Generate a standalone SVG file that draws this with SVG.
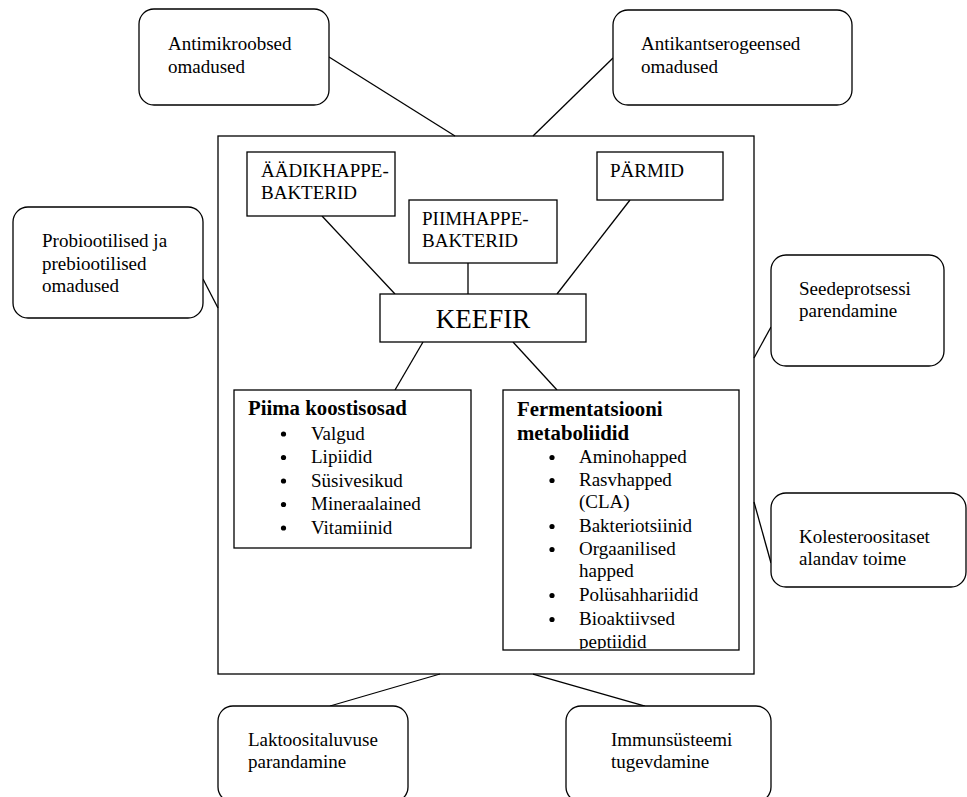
<svg xmlns="http://www.w3.org/2000/svg" width="967" height="797" viewBox="0 0 967 797">
<style>
  .box{fill:#fff;stroke:#000;stroke-width:1.3}
  .rbox{fill:#fff;stroke:#000;stroke-width:1.3}
  .t{font-family:"Liberation Serif","Times New Roman",serif;font-size:19px;fill:#000}
  .b{font-weight:bold;font-size:20.8px}
  .big{font-size:27px}
  .conn line{stroke:#000;stroke-width:1.3}
</style>
<defs>
  <clipPath id="fclip"><rect x="503" y="390" width="236" height="259"/></clipPath>
</defs>
<rect width="967" height="797" fill="#fff"/>

<g id="kefir-main">
  <rect class="box" x="218" y="136" width="536" height="538"/>
</g>

<g id="connectors" class="conn">
  <line x1="329" y1="57" x2="455" y2="136"/>
  <line x1="613" y1="58" x2="533" y2="136"/>
  <line x1="203" y1="279" x2="218" y2="308"/>
  <line x1="754" y1="358" x2="771" y2="327"/>
  <line x1="754" y1="502" x2="771" y2="563"/>
  <line x1="440" y1="674" x2="330" y2="706"/>
  <line x1="533" y1="674" x2="645" y2="706"/>
  <line x1="322" y1="216" x2="395" y2="294"/>
  <line x1="468" y1="263" x2="468" y2="294"/>
  <line x1="630" y1="200" x2="557" y2="294"/>
  <line x1="423" y1="342" x2="395" y2="390"/>
  <line x1="513" y1="342" x2="557" y2="390"/>
</g>

<g id="antimikroobsed">
  <rect class="rbox" x="139" y="9" width="190" height="96" rx="15"/>
  <text class="t" x="168" y="50">Antimikroobsed</text>
  <text class="t" x="168" y="73">omadused</text>
</g>

<g id="antikantserogeensed">
  <rect class="rbox" x="613" y="10" width="239" height="95" rx="15"/>
  <text class="t" x="641" y="50">Antikantserogeensed</text>
  <text class="t" x="641" y="73">omadused</text>
</g>

<g id="probiootilised">
  <rect class="rbox" x="13" y="207" width="190" height="111" rx="15"/>
  <text class="t" x="42" y="247">Probiootilised ja</text>
  <text class="t" x="42" y="270">prebiootilised</text>
  <text class="t" x="42" y="292">omadused</text>
</g>

<g id="seedeprotsessi">
  <rect class="rbox" x="771" y="255" width="173" height="111" rx="15"/>
  <text class="t" x="799" y="295">Seedeprotsessi</text>
  <text class="t" x="799" y="317">parendamine</text>
</g>

<g id="kolesterool">
  <rect class="rbox" x="771" y="493" width="195" height="94" rx="15"/>
  <text class="t" x="799" y="543">Kolesteroositaset</text>
  <text class="t" x="799" y="565">alandav toime</text>
</g>

<g id="laktoos">
  <rect class="rbox" x="218" y="706" width="190" height="96" rx="15"/>
  <text class="t" x="248" y="746">Laktoositaluvuse</text>
  <text class="t" x="248" y="768">parandamine</text>
</g>

<g id="immuun">
  <rect class="rbox" x="566" y="706" width="205" height="96" rx="15"/>
  <text class="t" x="611" y="746">Immunsüsteemi</text>
  <text class="t" x="611" y="768">tugevdamine</text>
</g>

<g id="aadikhappe">
  <rect class="box" x="247" y="152" width="148" height="64"/>
  <text class="t" x="261" y="177">ÄÄDIKHAPPE-</text>
  <text class="t" x="261" y="199">BAKTERID</text>
</g>

<g id="piimhappe">
  <rect class="box" x="409" y="200" width="148" height="63"/>
  <text class="t" x="422" y="225">PIIMHAPPE-</text>
  <text class="t" x="422" y="247">BAKTERID</text>
</g>

<g id="parmid">
  <rect class="box" x="597" y="152" width="126" height="48"/>
  <text class="t" x="610" y="177">PÄRMID</text>
</g>

<g id="keefir">
  <rect class="box" x="380" y="294" width="206" height="48"/>
  <text class="t big" x="483" y="328" text-anchor="middle">KEEFIR</text>
</g>

<g id="piima">
  <rect class="box" x="234" y="390" width="237" height="158"/>
  <text class="t b" x="248" y="415">Piima koostisosad</text>
  <g>
    <circle cx="283.5" cy="434" r="2.6"/>
    <circle cx="283.5" cy="457.5" r="2.6"/>
    <circle cx="283.5" cy="481" r="2.6"/>
    <circle cx="283.5" cy="504.5" r="2.6"/>
    <circle cx="283.5" cy="528" r="2.6"/>
  </g>
  <text class="t" x="311" y="440">Valgud</text>
  <text class="t" x="311" y="463">Lipiidid</text>
  <text class="t" x="311" y="487">Süsivesikud</text>
  <text class="t" x="311" y="510">Mineraalained</text>
  <text class="t" x="311" y="534">Vitamiinid</text>
</g>

<g id="fermentatsioon">
  <rect class="box" x="503" y="390" width="236" height="260"/>
  <text class="t b" x="517" y="416">Fermentatsiooni</text>
  <text class="t b" x="517" y="440">metaboliidid</text>
  <g>
    <circle cx="552" cy="457.5" r="2.6"/>
    <circle cx="552" cy="480.5" r="2.6"/>
    <circle cx="552" cy="526.5" r="2.6"/>
    <circle cx="552" cy="549.5" r="2.6"/>
    <circle cx="552" cy="595.5" r="2.6"/>
    <circle cx="552" cy="619.5" r="2.6"/>
  </g>
  <g clip-path="url(#fclip)">
    <text class="t" x="579" y="463">Aminohapped</text>
    <text class="t" x="579" y="486">Rasvhapped</text>
    <text class="t" x="579" y="508">(CLA)</text>
    <text class="t" x="579" y="532">Bakteriotsiinid</text>
    <text class="t" x="579" y="555">Orgaanilised</text>
    <text class="t" x="579" y="577">happed</text>
    <text class="t" x="579" y="601">Polüsahhariidid</text>
    <text class="t" x="579" y="625">Bioaktiivsed</text>
    <text class="t" x="579" y="648">peptiidid</text>
  </g>
</g>
</svg>
